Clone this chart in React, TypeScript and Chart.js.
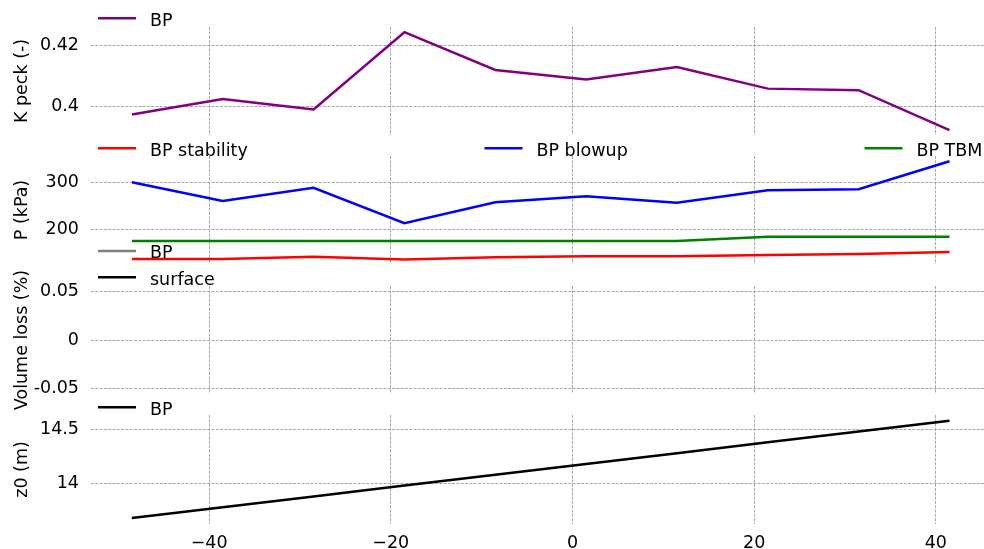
import React, { useEffect, useRef } from 'react';
import { Chart, registerables } from 'chart.js';

Chart.register(...registerables);

// ---- data ----
const xValues = [-48.5, -38.5, -28.5, -18.5, -8.5, 1.5, 11.5, 21.5, 31.5, 41.5];
const kPeckBP = [0.3973, 0.4024, 0.399, 0.4243, 0.4119, 0.4088, 0.4129, 0.4058, 0.4053, 0.3922];
const pStability = [136, 136, 141, 135, 140, 142, 142, 145, 147, 151];
const pBlowup = [301, 261, 289, 213, 258, 271, 257, 284, 286, 346];
const pTBM = [175, 175, 175, 175, 175, 175, 175, 184, 184, 184];
const volumeLossBP: number[] = [];
const volumeLossSurface: number[] = [];
const z0BP = [13.68, 13.78, 13.88, 13.98, 14.08, 14.18, 14.28, 14.38, 14.48, 14.58];

const xTicks = [-40, -20, 0, 20, 40];
const xTickLabels = ['\u221240', '\u221220', '0', '20', '40'];
const kTicks = [0.4, 0.42];
const kTickLabels = ['0.4', '0.42'];
const pTicks = [200, 300];
const pTickLabels = ['200', '300'];
const vTicks = [-0.05, 0, 0.05];
const vTickLabels = ['-0.05', '0', '0.05'];
const zTicks = [14, 14.5];
const zTickLabels = ['14', '14.5'];

const FONT = 'DejaVu Sans';
const FS = 17.5;
const W = 984;
const H = 549;
const LW = 2.5;

const decorPlugin = {
  id: 'decor',
  afterDraw(chart: any, _args: any, opts: any) {
    const ctx = chart.ctx as CanvasRenderingContext2D;
    const { top, bottom } = chart.chartArea;
    ctx.save();
    ctx.font = `${FS}px "${FONT}"`;
    ctx.fillStyle = '#000000';
    ctx.save();
    ctx.translate(26.5, (top + bottom) / 2);
    ctx.rotate(-Math.PI / 2);
    ctx.textAlign = 'center';
    ctx.textBaseline = 'alphabetic';
    ctx.fillText(opts.yTitle, 0, 0);
    ctx.restore();
    const datasets = chart.data.datasets;
    (opts.legendPos || []).forEach((p: any, i: number) => {
      const ds = datasets[i];
      ctx.strokeStyle = ds.borderColor;
      ctx.lineWidth = LW;
      ctx.beginPath();
      ctx.moveTo(p.x, p.y);
      ctx.lineTo(p.x + 38, p.y);
      ctx.stroke();
      ctx.textAlign = 'left';
      ctx.textBaseline = 'alphabetic';
      ctx.fillStyle = '#000000';
      ctx.fillText(ds.label, p.x + 52, p.y + 7.3);
    });
    ctx.restore();
  },
};

type Series = { label: string; values: number[]; color: string };
type PanelCfg = {
  top: number;
  bottom: number;
  ymin: number;
  ymax: number;
  yTicks: number[];
  yTickLabels: string[];
  yTitle: string;
  series: Series[];
  legendPos: { x: number; y: number }[];
  showX: boolean;
};

const panels: PanelCfg[] = [
  {
    top: 27, bottom: 135, ymin: 0.3906, ymax: 0.426,
    yTicks: kTicks, yTickLabels: kTickLabels, yTitle: 'K peck (-)',
    series: [{ label: 'BP', values: kPeckBP, color: '#800080' }],
    legendPos: [{ x: 98, y: 18.3 }],
    showX: false,
  },
  {
    top: 156, bottom: 264, ymin: 125.5, ymax: 357.3,
    yTicks: pTicks, yTickLabels: pTickLabels, yTitle: 'P (kPa)',
    series: [
      { label: 'BP stability', values: pStability, color: '#ff0000' },
      { label: 'BP blowup', values: pBlowup, color: '#0000ff' },
      { label: 'BP TBM', values: pTBM, color: '#008000' },
    ],
    legendPos: [{ x: 98, y: 148.3 }, { x: 484.5, y: 148.3 }, { x: 864.5, y: 148.3 }],
    showX: false,
  },
  {
    top: 286, bottom: 394, ymin: -0.0553, ymax: 0.0553,
    yTicks: vTicks, yTickLabels: vTickLabels, yTitle: 'Volume loss (%)',
    series: [
      { label: 'BP', values: volumeLossBP, color: '#808080' },
      { label: 'surface', values: volumeLossSurface, color: '#000000' },
    ],
    legendPos: [{ x: 98, y: 251 }, { x: 98, y: 277.3 }],
    showX: false,
  },
  {
    top: 415, bottom: 524, ymin: 13.625, ymax: 14.633,
    yTicks: zTicks, yTickLabels: zTickLabels, yTitle: 'z0 (m)',
    series: [{ label: 'BP', values: z0BP, color: '#000000' }],
    legendPos: [{ x: 98, y: 407.3 }],
    showX: true,
  },
];

const GRID = {
  color: '#a8a8a8',
  lineWidth: 1,
  drawTicks: false,
};
const DASH = [3, 1.3];

function Panel({ cfg }: { cfg: PanelCfg }) {
  const ref = useRef<HTMLCanvasElement>(null);
  useEffect(() => {
    const xAxisH = cfg.showX ? H - cfg.bottom : 0;
    const chart = new Chart(ref.current as HTMLCanvasElement, {
      type: 'line',
      data: {
        datasets: cfg.series.map((s) => ({
          label: s.label,
          data: s.values.map((v, i) => ({ x: xValues[i], y: v })),
          borderColor: s.color,
          backgroundColor: s.color,
          borderWidth: LW,
          pointRadius: 0,
          tension: 0,
          fill: false,
        })),
      },
      options: {
        responsive: false,
        devicePixelRatio: 1,
        animation: false,
        events: [],
        layout: {
          padding: { top: cfg.top, bottom: cfg.showX ? 0 : H - cfg.bottom, left: 0, right: 0 },
        },
        plugins: {
          legend: { display: false },
          tooltip: { enabled: false },
          decor: { yTitle: cfg.yTitle, legendPos: cfg.legendPos },
        } as any,
        scales: {
          x: {
            type: 'linear',
            min: -53,
            max: 45.3,
            border: { display: false, dash: DASH },
            grid: { ...GRID } as any,
            afterBuildTicks: (s: any) => {
              s.ticks = xTicks.map((v) => ({ value: v }));
            },
            afterFit: (s: any) => {
              s.height = xAxisH;
            },
            ticks: {
              display: cfg.showX,
              color: '#000000',
              font: { family: FONT, size: FS },
              padding: 9,
              maxRotation: 0,
              autoSkip: false,
              callback: (v: any) => {
                const i = xTicks.indexOf(Number(v));
                return i >= 0 ? xTickLabels[i] : '';
              },
            },
          },
          y: {
            type: 'linear',
            min: cfg.ymin,
            max: cfg.ymax,
            border: { display: false, dash: DASH },
            grid: { ...GRID } as any,
            afterBuildTicks: (s: any) => {
              s.ticks = cfg.yTicks.map((v) => ({ value: v }));
            },
            afterFit: (s: any) => {
              s.width = 91;
            },
            ticks: {
              color: '#000000',
              font: { family: FONT, size: FS },
              padding: 12,
              autoSkip: false,
              callback: (v: any) => {
                const i = cfg.yTicks.indexOf(Number(v));
                return i >= 0 ? cfg.yTickLabels[i] : '';
              },
            },
          },
        },
      },
      plugins: [decorPlugin as any],
    });
    return () => chart.destroy();
  }, []);
  return (
    <canvas
      ref={ref}
      width={W}
      height={H}
      style={{ position: 'absolute', left: 0, top: 0, width: W, height: H }}
    />
  );
}

export default function App() {
  return (
    <div style={{ position: 'absolute', left: 0, top: 0, width: W, height: H, background: '#ffffff' }}>
      {panels.map((p, i) => (
        <Panel key={i} cfg={p} />
      ))}
    </div>
  );
}
